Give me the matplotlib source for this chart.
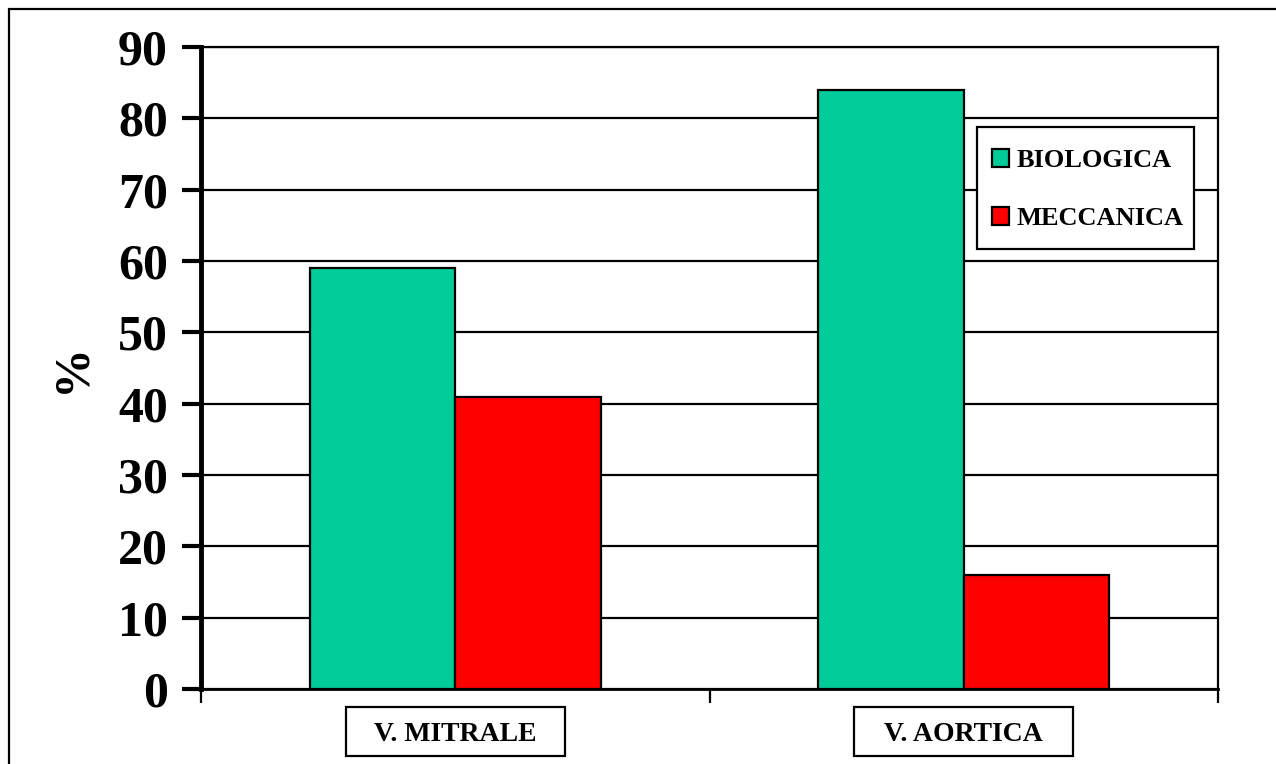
import numpy as np
import matplotlib
matplotlib.use("Agg")
from matplotlib import pyplot as plt
from matplotlib.patches import Rectangle
from matplotlib.transforms import blended_transform_factory

# data
categories = ["V. MITRALE", "V. AORTICA"]
biologica = [59, 84]
meccanica = [41, 16]
series_names = ["BIOLOGICA", "MECCANICA"]
yticks = list(range(0, 100, 10))

plt.rcParams['font.family'] = ['Liberation Serif', 'DejaVu Serif']
plt.rcParams['font.weight'] = 'bold'

fig = plt.figure(figsize=(12.76, 7.64), dpi=100)
ax = fig.add_axes([201 / 1276, 75 / 764, (1218 - 201) / 1276, (689 - 47) / 764])

# outer chart border (only left and top visible in the crop)
fig.patches.append(Rectangle((9 / 1276, -0.1), 1.2, 1 - 9 / 764 + 0.1,
                             transform=fig.transFigure, fill=False,
                             edgecolor='black', linewidth=1.6))

x = np.arange(len(categories))
w = 1 / 3.5
ax.bar(x - w / 2, biologica, w, color='#00CC99', edgecolor='black', linewidth=1.6,
       label=series_names[0], zorder=3)
ax.bar(x + w / 2, meccanica, w, color='#FF0000', edgecolor='black', linewidth=1.6,
       label=series_names[1], zorder=3)

ax.set_xlim(-0.5, 1.5)
ax.set_ylim(0, 90)
ax.set_yticks(yticks)
ax.yaxis.grid(True, color='black', linewidth=1.6, zorder=0)
ax.tick_params(axis='y', labelsize=36, width=3, length=14, pad=10)
for t in ax.get_yticklabels():
    t.set_fontweight('bold')

ax.set_xticks(x)
ax.set_xticklabels(categories, fontsize=20, fontweight='bold')
ax.tick_params(axis='x', length=0, pad=24)
ax.set_xticks([-0.5, 0.5, 1.5], minor=True)
ax.tick_params(axis='x', which='minor', length=10, width=1.6)

# boxes around the category labels
trans = blended_transform_factory(ax.transData, ax.transAxes)
box_w = 0.43
for xi in x:
    ax.add_patch(Rectangle((xi - box_w / 2, -0.104), box_w, 0.076, transform=trans,
                           facecolor='white', edgecolor='black', linewidth=1.6,
                           clip_on=False, zorder=1))

ax.set_ylabel('%', fontsize=36, fontweight='bold', labelpad=16)

ax.spines['left'].set_linewidth(3.5)
ax.spines['bottom'].set_linewidth(2)
ax.spines['right'].set_linewidth(1.6)
ax.spines['top'].set_linewidth(1.6)

# legend frame drawn separately so the padding can match
ax.add_patch(Rectangle((0.763, 0.685), 0.213, 0.19, transform=ax.transAxes,
                       facecolor='white', edgecolor='black', linewidth=1.6, zorder=4))
leg = ax.legend(loc='upper left', bbox_to_anchor=(0.778, 0.841),
                prop={'weight': 'bold', 'size': 19}, frameon=False,
                handlelength=0.64, handleheight=0.64,
                handletextpad=0.27, labelspacing=1.34, borderpad=0, borderaxespad=0)
leg.set_zorder(5)

fig.savefig('out.png', dpi=100, facecolor='white')
